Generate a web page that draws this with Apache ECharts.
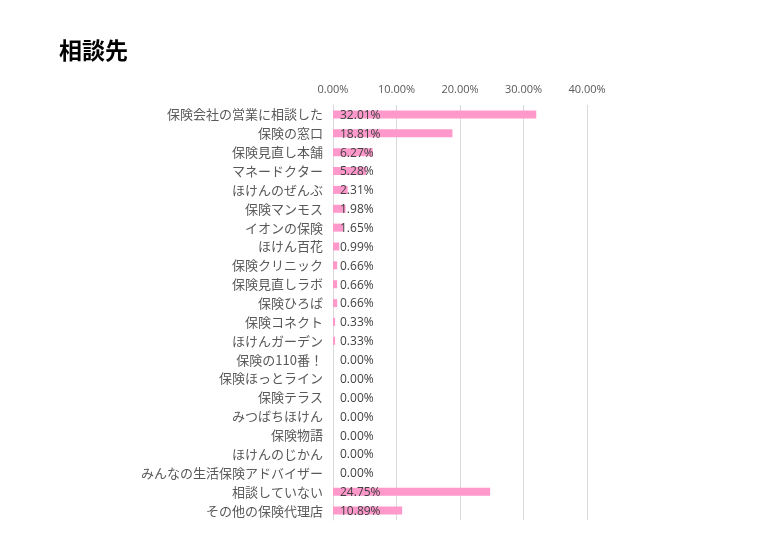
<!DOCTYPE html>
<html><head><meta charset="utf-8">
<script src="https://cdn.jsdelivr.net/npm/echarts@6/dist/echarts.min.js"></script>
<style>html,body{margin:0;padding:0;background:#fff}#c{width:760px;height:551px}</style>
</head><body><div id="c"></div>
<script>
const categories = ["保険会社の営業に相談した","保険の窓口","保険見直し本舗","マネードクター","ほけんのぜんぶ","保険マンモス","イオンの保険","ほけん百花","保険クリニック","保険見直しラボ","保険ひろば","保険コネクト","ほけんガーデン","保険の110番！","保険ほっとライン","保険テラス","みつばちほけん","保険物語","ほけんのじかん","みんなの生活保険アドバイザー","相談していない","その他の保険代理店"];
const values = [32.01,18.81,6.27,5.28,2.31,1.98,1.65,0.99,0.66,0.66,0.66,0.33,0.33,0,0,0,0,0,0,0,24.75,10.89];
const tickValues = [0,10,20,30,40];
const chart = echarts.init(document.getElementById('c'));
const jp = '"Noto Sans CJK JP", "Noto Sans", sans-serif';
chart.setOption({
  animation:false,
  title:{text:'相談先',left:54,top:34,textStyle:{fontFamily:jp,fontSize:23,fontWeight:'bold',color:'#000'}},
  grid:{left:333,right:173,top:105,bottom:31},
  xAxis:{type:'value',position:'top',min:0,max:40,interval:10,
    axisLine:{show:false},axisTick:{show:false},
    axisLabel:{margin:10,color:'#595959',fontSize:11,fontFamily:'"Open Sans", "Noto Sans", sans-serif',formatter:v=>v.toFixed(2)+'%'},
    splitLine:{lineStyle:{color:'#d9d9d9',width:1}}},
  yAxis:{type:'category',data:categories,inverse:true,
    axisLine:{show:true,lineStyle:{color:'#d9d9d9'}},axisTick:{show:false},
    axisLabel:{margin:10,color:'#595959',fontSize:13,fontFamily:jp}},
  series:[{type:'bar',data:values,barWidth:8,itemStyle:{color:'#ff99cc'},
    label:{show:true,position:'insideLeft',distance:7,offset:[0,1],color:'#404040',fontSize:12,fontFamily:'"Open Sans", "Noto Sans", sans-serif',formatter:p=>p.value.toFixed(2)+'%'}}]
});
</script></body></html>
